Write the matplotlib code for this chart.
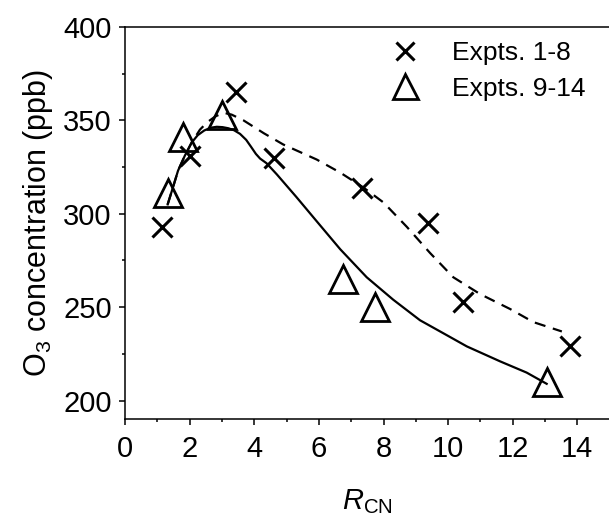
import matplotlib
matplotlib.use("Agg")
import matplotlib.pyplot as plt
from matplotlib.lines import Line2D

plt.rcParams["font.family"] = ["Liberation Sans", "DejaVu Sans"]
plt.rcParams["mathtext.fontset"] = "custom"
plt.rcParams["mathtext.rm"] = "Liberation Sans"
plt.rcParams["mathtext.it"] = "Liberation Sans:italic"

# Expts. 1-8 (crosses)
rcn_a = [1.13, 2.01, 3.42, 4.61, 7.33, 9.37, 10.47, 13.77]
o3_a = [293, 331, 365, 330, 314, 295, 253, 229]

# Expts. 9-14 (triangles)
rcn_b = [1.34, 1.80, 3.01, 6.74, 7.74, 13.05]
o3_b = [311, 341, 353, 265, 250, 210]

# fitted trend for expts 1-8 (dashed)
fit_a_x = [1.32, 1.50, 1.64, 1.85, 2.06, 2.32, 2.55, 2.79, 3.05, 3.30, 3.66, 4.30,
           4.90, 5.93, 6.66, 7.38, 8.00, 8.72, 9.44, 10.16, 10.99, 11.92, 12.64,
           13.52]
fit_a_y = [305, 315, 323, 331, 338, 345, 349, 352, 354, 353, 350, 343,
           337, 329, 322, 314, 306, 293, 279, 266, 257, 249, 242,
           237]

# fitted trend for expts 9-14 (solid)
fit_b_x = [1.32, 1.50, 1.64, 1.85, 2.06, 2.25, 2.45, 2.65, 2.84, 3.02, 3.20, 3.38,
           3.56, 3.75, 3.90, 4.05, 4.18, 4.38, 4.70, 5.30, 5.93, 6.66, 7.48,
           8.30, 9.13, 9.96, 10.58, 11.61, 12.43, 13.05]
fit_b_y = [305, 315, 323, 331, 338, 342, 344.5, 346, 346.5, 346.3, 345.7, 344.6,
           342.7, 339.5, 335.8, 332, 329.5, 327, 321, 309, 296, 281, 266,
           254, 243, 235, 229, 221, 215, 209]

fig = plt.figure(figsize=(6.09, 5.18), dpi=100)
ax = fig.add_axes([0.2053, 0.1905, 0.7958, 0.7578])

ax.plot(fit_a_x, fit_a_y, color="black", lw=1.6, ls=(0, (5, 3.5)))
ax.plot(fit_b_x, fit_b_y, color="black", lw=1.6)
ax.plot(rcn_a, o3_a, ls="none", marker="x", ms=14.5, mew=2.2, color="black")
ax.plot(rcn_b, o3_b, ls="none", marker="^", ms=20, mew=2.0, mfc="none", color="black")

ax.set_xlim(0, 15)
ax.set_ylim(190, 400)
ax.set_xticks(range(0, 15, 2))
ax.set_xticks(range(1, 15, 2), minor=True)
ax.set_yticks(range(200, 401, 50))
ax.set_yticks(range(225, 400, 50), minor=True)
ax.tick_params(which="major", direction="out", length=4.5, width=1.1, labelsize=21)
ax.tick_params(which="minor", direction="out", length=2.5, width=1.1)
ax.tick_params(axis="x", which="major", pad=7)
ax.tick_params(axis="y", which="major", pad=5)
for s in ax.spines.values():
    s.set_linewidth(1.1)

ax.set_xlabel(r"$\mathit{R}_{\mathrm{CN}}$", fontsize=21, labelpad=17)
ax.set_ylabel(r"O$_3$ concentration (ppb)", fontsize=22, labelpad=6)

handles = [
    Line2D([], [], ls="none", marker="x", ms=12.5, mew=2.2, color="black"),
    Line2D([], [], ls="none", marker="^", ms=18, mew=2.0, mfc="none", color="black"),
]
fig.legend(handles, ["Expts. 1-8", "Expts. 9-14"], loc="upper left",
           bbox_to_anchor=(368 / 609, 1 - 17 / 518), frameon=False, fontsize=19,
           handlelength=1.0, handletextpad=1.27, labelspacing=0.45, borderpad=0.4)

fig.savefig("out.png", dpi=100)
